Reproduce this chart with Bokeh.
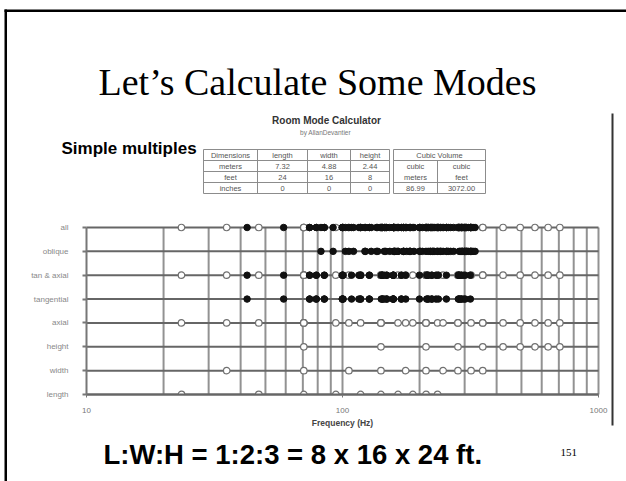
import math
from bokeh.plotting import figure
from bokeh.models import (Range1d, FixedTicker, Label, BoxAnnotation, ColumnDataSource, LinearAxis, LogAxis,
                          LogScale, LinearScale)
from bokeh.embed import file_html
from bokeh.resources import INLINE

# ---------------- data ----------------
ROW_NAMES = ["length", "width", "height", "axial", "tangential", "tan & axial", "oblique", "all"]

LENGTH_HZ = [23.5, 47.1, 70.6, 94.2, 117.7, 141.3, 164.8, 188.3, 211.9, 235.4]
WIDTH_HZ = [35.3, 70.6, 105.9, 141.3, 176.6, 211.9, 247.2, 282.5, 317.8, 353.1]
HEIGHT_HZ = [70.6, 141.3, 211.9, 282.5, 353.1, 423.8, 494.4, 565.0, 635.6, 706.3]

TANGENTIAL_HZ = [
    42.4, 74.4, 108.5, 143.2, 58.9, 84.9, 115.9, 148.9, 79.0, 99.9, 127.3, 157.9, 100.6, 117.7, 141.7, 169.8,
    74.4, 143.2, 213.2, 283.5, 84.9, 148.9, 217.0, 286.4, 99.9, 157.9, 223.3, 291.2, 117.7, 169.8, 231.9, 297.8,
    79.0, 145.6, 214.8, 284.7, 99.9, 157.9, 223.3, 291.2, 127.3, 176.6, 236.9, 301.7, 157.9, 199.8, 254.6, 315.9,
]

OBLIQUE_HZ = [
    82.4, 102.6, 129.5, 159.7, 91.9, 110.4, 135.8, 164.8, 105.9, 122.3, 145.6, 173.0, 122.9, 137.3, 158.4, 183.9,
    147.5, 159.7, 178.1, 201.1, 153.0, 164.8, 182.7, 205.2, 161.8, 173.0, 190.2, 211.9, 173.4, 183.9, 200.1, 220.9,
    216.1, 224.6, 238.1, 255.7, 219.9, 228.3, 241.5, 259.0, 226.1, 234.2, 247.2, 264.3, 234.5, 242.4, 254.9, 271.5,
    285.7, 292.1, 302.6, 316.7, 288.6, 295.0, 305.4, 319.3, 293.3, 299.6, 309.9, 323.6, 299.9, 306.0, 316.1, 329.6,
]

GRID_HZ = [20, 30, 40, 50, 60, 70, 80, 90, 100, 200, 300, 400, 500, 600, 700, 800, 900, 1000]
X_TICKS = [10, 100, 1000]
X_TICK_LABELS = ["10", "100", "1000"]

TABLE_HEAD = ["Dimensions", "length", "width", "height"]
TABLE_METERS = ["meters", "7.32", "4.88", "2.44"]
TABLE_FEET = ["feet", "24", "16", "8"]
TABLE_INCHES = ["inches", "0", "0", "0"]
VOLUME_HEAD = "Cubic Volume"
VOLUME_UNITS = [["cubic", "meters"], ["cubic", "feet"]]
VOLUME_VALUES = ["86.99", "3072.00"]

TITLE = "Let\u2019s Calculate Some Modes"
CALC_TITLE = "Room Mode Calculator"
CALC_BY = "by AllanDevantier"
SIDE_NOTE = "Simple multiples"
X_LABEL = "Frequency (Hz)"
FOOTER = "L:W:H = 1:2:3 = 8 x 16 x 24 ft."
PAGE_NO = "151"

# ---------------- build row tables ----------------
AXIAL_HZ = LENGTH_HZ + WIDTH_HZ + HEIGHT_HZ
ROW_OPEN = {"length": [], "width": WIDTH_HZ, "height": HEIGHT_HZ, "axial": AXIAL_HZ,
            "tangential": [], "tan & axial": AXIAL_HZ, "oblique": [], "all": AXIAL_HZ}
ROW_FILLED = {"length": [], "width": [], "height": [], "axial": [],
              "tangential": TANGENTIAL_HZ, "tan & axial": TANGENTIAL_HZ,
              "oblique": OBLIQUE_HZ, "all": TANGENTIAL_HZ + OBLIQUE_HZ}

open_x, open_y, fill_x, fill_y = [], [], [], []
for i, name in enumerate(ROW_NAMES):
    open_x += ROW_OPEN[name]
    open_y += [i] * len(ROW_OPEN[name])
    fill_x += ROW_FILLED[name]
    fill_y += [i] * len(ROW_FILLED[name])

X_MIN, X_MAX = X_TICKS[0], X_TICKS[-1]
N_ROWS = len(ROW_NAMES)

# ---------------- layout (page pixels) ----------------
W, H = 626, 481
CH_LEFT, CH_RIGHT = 86, 598        # 10 Hz and 1000 Hz
CH_TOP, CH_BOTTOM = 227, 394       # "all" row and "length" row
DEC_PX = (CH_RIGHT - CH_LEFT) / 2
ROW_PX = (CH_BOTTOM - CH_TOP) / (N_ROWS - 1)

x_range = Range1d(X_MIN * 10 ** (-CH_LEFT / DEC_PX), X_MAX * 10 ** ((W - CH_RIGHT) / DEC_PX))
y_range = Range1d(-(H - CH_BOTTOM) / ROW_PX, CH_BOTTOM / ROW_PX)

p = figure(width=W, height=H, x_axis_type=None, y_axis_type=None, x_range=x_range, y_range=y_range,
           output_backend="svg", toolbar_location=None, title=None, min_border=0,
           min_border_left=0, min_border_right=0, min_border_top=0, min_border_bottom=0,
           outline_line_color=None, background_fill_color="white", border_fill_color="white")
p.x_scale = LogScale()

# page-pixel helper ranges for the slide decorations
p.extra_x_ranges = {"px": Range1d(0, W)}
p.extra_y_ranges = {"py": Range1d(H, 0)}
p.extra_x_scales = {"px": LinearScale()}
p.extra_y_scales = {"py": LinearScale()}

# vertical grid lines
p.segment(x0=GRID_HZ, y0=[0] * len(GRID_HZ), x1=GRID_HZ, y1=[N_ROWS - 1] * len(GRID_HZ),
          line_color="#929292", line_width=2, level="underlay")
# row lines
p.segment(x0=[X_MIN] * N_ROWS, y0=list(range(N_ROWS)), x1=[X_MAX] * N_ROWS, y1=list(range(N_ROWS)),
          line_color="#666666", line_width=2, level="underlay")

p.scatter(x="x", y="y", source=ColumnDataSource(dict(x=open_x, y=open_y)), marker="circle",
          size=6.5, fill_color="white", line_color="#707070", line_width=1.2)
p.scatter(x="x", y="y", source=ColumnDataSource(dict(x=fill_x, y=fill_y)), marker="circle",
          size=6.5, fill_color="#111111", line_color="#111111", line_width=1)
# bottom row markers sit on the frame edge (half circles)
p.wedge(x=LENGTH_HZ, y=[0] * len(LENGTH_HZ), radius=3.3, radius_units="screen",
        start_angle=0, end_angle=math.pi, fill_color="white", line_color="#707070", line_width=1.2)

# y axis (row names)
ya = LinearAxis(fixed_location=X_MIN, bounds=(0, N_ROWS - 1))
ya.ticker = FixedTicker(ticks=list(range(N_ROWS)))
ya.major_label_overrides = {i: n for i, n in enumerate(ROW_NAMES)}
ya.minor_tick_line_color = None
ya.major_tick_out = 4
ya.major_tick_in = 0
ya.major_tick_line_color = "#777777"
ya.major_tick_line_width = 2
ya.axis_line_color = "#777777"
ya.axis_line_width = 2
ya.major_label_standoff = 14
ya.major_label_text_font = "Liberation Sans"
ya.major_label_text_font_size = "8px"
ya.major_label_text_color = "#888888"
p.add_layout(ya, "left")

# x axis
xa = LogAxis(fixed_location=0, bounds=(X_MIN, X_MAX))
xa.ticker = FixedTicker(ticks=X_TICKS)
xa.major_label_overrides = dict(zip(X_TICKS, X_TICK_LABELS))
xa.minor_tick_line_color = None
xa.major_tick_out = 3
xa.major_tick_in = 0
xa.major_tick_line_color = "#777777"
xa.axis_line_color = "#666666"
xa.axis_line_width = 2
xa.major_label_standoff = 10
xa.major_label_text_font = "Liberation Sans"
xa.major_label_text_font_size = "8px"
xa.major_label_text_color = "#777777"
xa.axis_label = X_LABEL
xa.axis_label_text_font = "Liberation Sans"
xa.axis_label_text_font_style = "bold"
xa.axis_label_text_font_size = "8.5px"
xa.axis_label_text_color = "#444444"
xa.axis_label_standoff = 2
p.add_layout(xa, "below")


def box(l, r, t, b, color):
    p.add_layout(BoxAnnotation(left=l, right=r, top=t, bottom=b, x_range_name="px", y_range_name="py",
                               fill_color=color, fill_alpha=1.0, line_color=None))


def text(x, y, s, size, font="Liberation Sans", style="normal", color="black", align="left"):
    p.add_layout(Label(x=x, y=y, x_range_name="px", y_range_name="py", text=s, text_font=font,
                       text_font_size=size, text_font_style=style, text_color=color,
                       text_align=align, text_baseline="middle"))


# slide frame
box(4, W, 9, 11.5, "black")
box(4, 6.5, 9, H, "black")
box(611, 613, 113, 425, "#333333")

# titles and notes (y = vertical centre of the text)
text(98, 81.5, TITLE, "38px", font="Liberation Serif")
text(326, 120, CALC_TITLE, "10px", style="bold", color="#333333", align="center")
text(325, 132, CALC_BY, "6.5px", color="#777777", align="center")
text(61, 148.4, SIDE_NOTE, "17px", style="bold")
text(103, 453.5, FOOTER, "27.5px", style="bold")
text(560, 452, PAGE_NO, "11px", font="Liberation Serif")

# table
ROW_EDGES = [149, 160, 171, 182, 193]
COL_EDGES = [203, 257, 307, 350, 389]
VOL_EDGES = [393, 437, 485]
LINE_C = "#8c8c8c"
for y in ROW_EDGES:
    box(COL_EDGES[0], COL_EDGES[-1], y - 0.5, y + 0.5, LINE_C)
for x in COL_EDGES:
    box(x - 0.5, x + 0.5, ROW_EDGES[0], ROW_EDGES[-1], LINE_C)
for y in (ROW_EDGES[0], ROW_EDGES[1], ROW_EDGES[3], ROW_EDGES[4]):
    box(VOL_EDGES[0], VOL_EDGES[-1], y - 0.5, y + 0.5, LINE_C)
box(VOL_EDGES[0] - 0.5, VOL_EDGES[0] + 0.5, ROW_EDGES[0], ROW_EDGES[-1], LINE_C)
box(VOL_EDGES[2] - 0.5, VOL_EDGES[2] + 0.5, ROW_EDGES[0], ROW_EDGES[-1], LINE_C)
box(VOL_EDGES[1] - 0.5, VOL_EDGES[1] + 0.5, ROW_EDGES[1], ROW_EDGES[-1], LINE_C)

TC = "#555555"
TS = "7.5px"
for r, row in enumerate([TABLE_HEAD, TABLE_METERS, TABLE_FEET, TABLE_INCHES]):
    yc = (ROW_EDGES[r] + ROW_EDGES[r + 1]) / 2
    for c, s in enumerate(row):
        xc = (COL_EDGES[c] + COL_EDGES[c + 1]) / 2
        text(xc, yc, s, TS, color=TC, align="center")
text((VOL_EDGES[0] + VOL_EDGES[2]) / 2, (ROW_EDGES[0] + ROW_EDGES[1]) / 2, VOLUME_HEAD, TS, color=TC,
     align="center")
for c in range(2):
    xc = (VOL_EDGES[c] + VOL_EDGES[c + 1]) / 2
    text(xc, ROW_EDGES[1] + 5.5, VOLUME_UNITS[c][0], TS, color=TC, align="center")
    text(xc, ROW_EDGES[2] + 5.5, VOLUME_UNITS[c][1], TS, color=TC, align="center")
    text(xc, (ROW_EDGES[3] + ROW_EDGES[4]) / 2, VOLUME_VALUES[c], TS, color=TC, align="center")

open("out.html", "w").write(file_html(p, INLINE))
